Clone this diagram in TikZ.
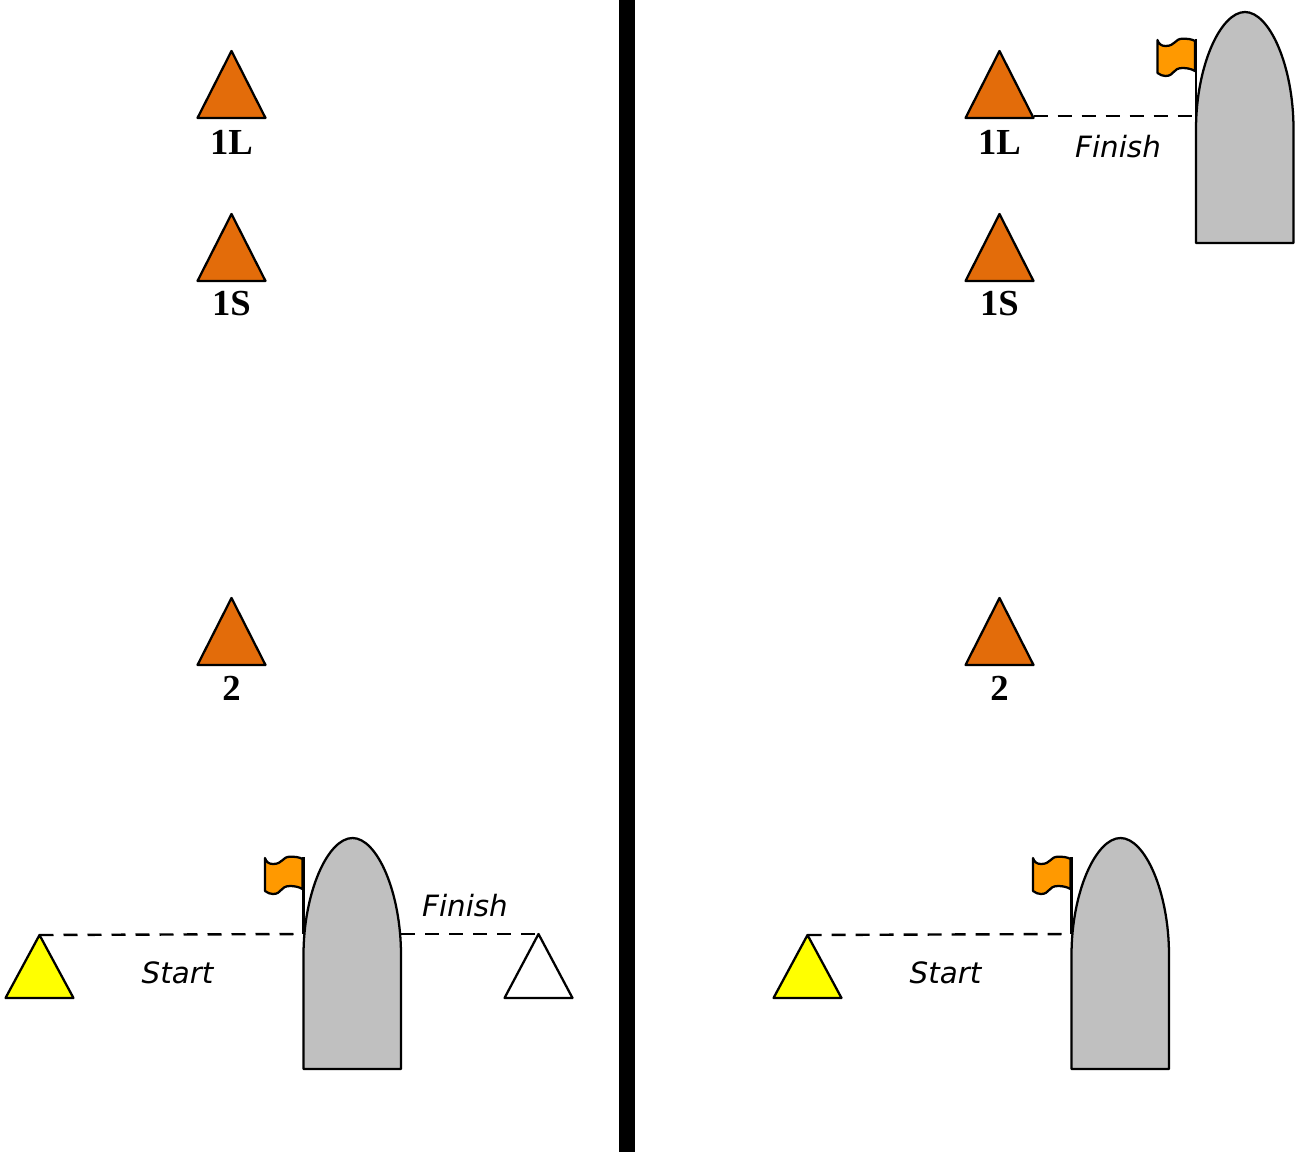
\documentclass[tikz,border=0pt]{standalone}
\usepackage{fontspec}
\setmainfont{Liberation Serif}
\newfontfamily\capfont{DejaVu Sans}
\definecolor{markorange}{HTML}{E36C0A}
\definecolor{flagorange}{HTML}{FF9900}
\definecolor{boatgrey}{HTML}{C0C0C0}
\definecolor{markyellow}{HTML}{FFFF00}
\tikzset{
  outline/.style={draw=black,line width=1.7pt,line join=round},
  polemast/.style={draw=black,line width=2pt},
  markname/.style={font=\fontsize{27.5}{30}\selectfont\bfseries,inner sep=0pt},
  linelabel/.style={font=\capfont\itshape\fontsize{22}{26}\selectfont,inner sep=0pt,text=black},
  courseline/.style={draw=black,line width=1.8pt,dash pattern=on 10.5pt off 7.5pt},
}
% \buoy{name}{apex x}{apex y}{height}{fill}
\newcommand{\buoy}[5]{%
  \coordinate (#1) at (#2,#3);
  \coordinate (#1L) at ({#2-34},{#3+#4});
  \coordinate (#1R) at ({#2+34},{#3+#4});
  \draw[outline,fill=#5] (#1) -- (#1L) -- (#1R) -- cycle;
}
% \boat{name}{x}{y}{flag y}: hull offset (x,y), flag offset (x,flag y)
\newcommand{\boat}[4]{%
  \begin{scope}[shift={(#2,#3)}]
    \draw[outline,fill=boatgrey] (303.5,1069) -- (303.5,955)
      .. controls (303.5,892) and (328,838) .. (352.5,838)
      .. controls (377,838) and (401,892) .. (401,955)
      -- (401,1069) -- cycle;
  \end{scope}
  \begin{scope}[shift={(#2,#4)}]
    \draw[polemast] (303.5,857) -- (303.5,934);
    \draw[outline,fill=flagorange] (302.5,859)
      .. controls (299,857) and (295,856.7) .. (290,856.7)
      .. controls (282,856.7) and (283,864) .. (273,864)
      .. controls (269,864) and (266,862) .. (265,858)
      -- (265,891)
      .. controls (268,893) and (270,894) .. (273,894)
      .. controls (282,894) and (280,886) .. (290,886)
      .. controls (295,886) and (299,887) .. (302.5,889) -- cycle;
  \end{scope}
}
\begin{document}
\begin{tikzpicture}[x=0.75pt,y=-0.75pt]
\useasboundingbox (0,0) rectangle (1299,1152);
\fill[black] (619,0) rectangle (635,1152);
% left panel
\buoy{aL}{231.5}{51}{67}{markorange}
\node[markname] (aLt) at (231.5,142) {1L};
\buoy{aS}{231.5}{214}{67}{markorange}
\node[markname] (aSt) at (231.5,304) {1S};
\buoy{aT}{231.5}{598}{67}{markorange}
\node[markname] (aTt) at (231.5,688) {2};
\buoy{aY}{39.5}{935}{63}{markyellow}
\buoy{aW}{538.5}{934}{64}{white}
\coordinate (aBW) at (303.5,934);
\coordinate (aBE) at (401,934);
\draw[courseline] (aY) -- (aBW);
\draw[courseline] (aBE) -- (aW);
\boat{aB}{0}{0}{0}
\node[linelabel] (aStart) at (177.5,973) {Start};
\node[linelabel] (aFinish) at (465,906) {Finish};
% right panel
\buoy{bL}{999.5}{51}{67}{markorange}
\node[markname] (bLt) at (999.5,142) {1L};
\buoy{bS}{999.5}{214}{67}{markorange}
\node[markname] (bSt) at (999.5,304) {1S};
\buoy{bT}{999.5}{598}{67}{markorange}
\node[markname] (bTt) at (999.5,688) {2};
\buoy{bY}{807.5}{935}{63}{markyellow}
\coordinate (bBW) at (1071.5,934);
\coordinate (bCW) at (1196,116);
\draw[courseline] (bY) -- (bBW);
\draw[courseline] (bLR) ++(0,-2) coordinate (bLe) -- (bCW);
\boat{bB}{768}{0}{0}
\boat{bC}{892.5}{-826}{-818}
\node[linelabel] (bStart) at (945.5,973) {Start};
\node[linelabel] (bFinish) at (1118,147) {Finish};
\end{tikzpicture}
\end{document}
